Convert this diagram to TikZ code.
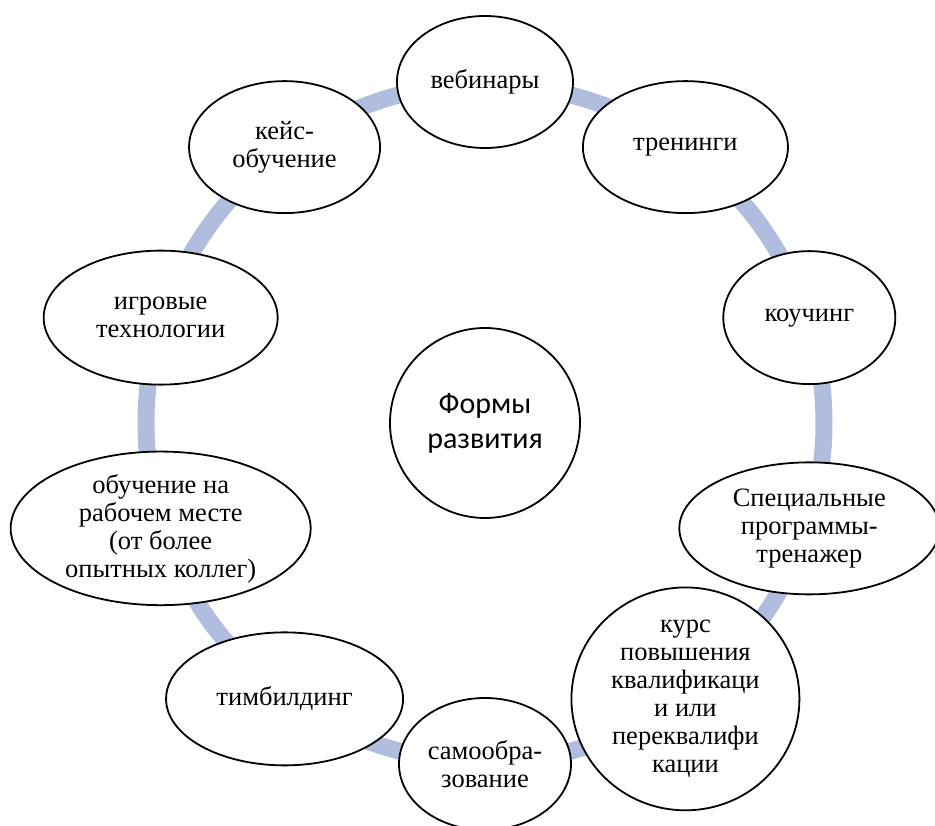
\documentclass[tikz,border=0pt]{standalone}
\usepackage{fontspec}
\setmainfont{Liberation Serif}
\newfontfamily\hubfont{Carlito}
\usetikzlibrary{shapes.geometric}
\definecolor{ringblue}{RGB}{176,189,222}

\begin{document}
\begin{tikzpicture}[x=1pt, y=1pt,
		form/.style={draw, ellipse, line width=1.8pt, fill=white, align=center,
			inner sep=0pt, font=\fontsize{26.5}{28}\selectfont},
		hub/.style={draw, circle, line width=1.8pt, fill=white, align=center,
			inner sep=0pt, minimum size=190pt, font=\hubfont\fontsize{30}{35}\selectfont}
	]
		\useasboundingbox (-485,-403) rectangle (450,423);
		
		\node[hub] (forms) at (0,0) {Формы\\развития};
		
		\draw[ringblue, line width=17pt] (forms.center) circle[radius=339];
		
		\foreach \ang/\name/\w/\h/\txt in {
			90/web/176/132/{вебинары},
			54/train/205/132/{тренинги},
			18/coach/172/133/{коучинг},
			-18/sim/260/132/{Специальные\\программы-\\тренажер},
			-54/course/228/188/{курс\\повышения\\квалификаци\\и или\\переквалифи\\кации},
			-90/self/172/132/{самообра-\\зование},
			-126/team/237/133/{тимбилдинг},
			-162/job/300/134/{обучение на\\рабочем месте\\(от более\\опытных коллег)},
			162/game/234/134/{игровые\\технологии},
			126/case/191/132/{кейс-\\обучение}}
			\node[form, minimum width=\w pt, minimum height=\h pt] (\name) at (\ang:341) {\txt};
	\end{tikzpicture}
\end{document}
